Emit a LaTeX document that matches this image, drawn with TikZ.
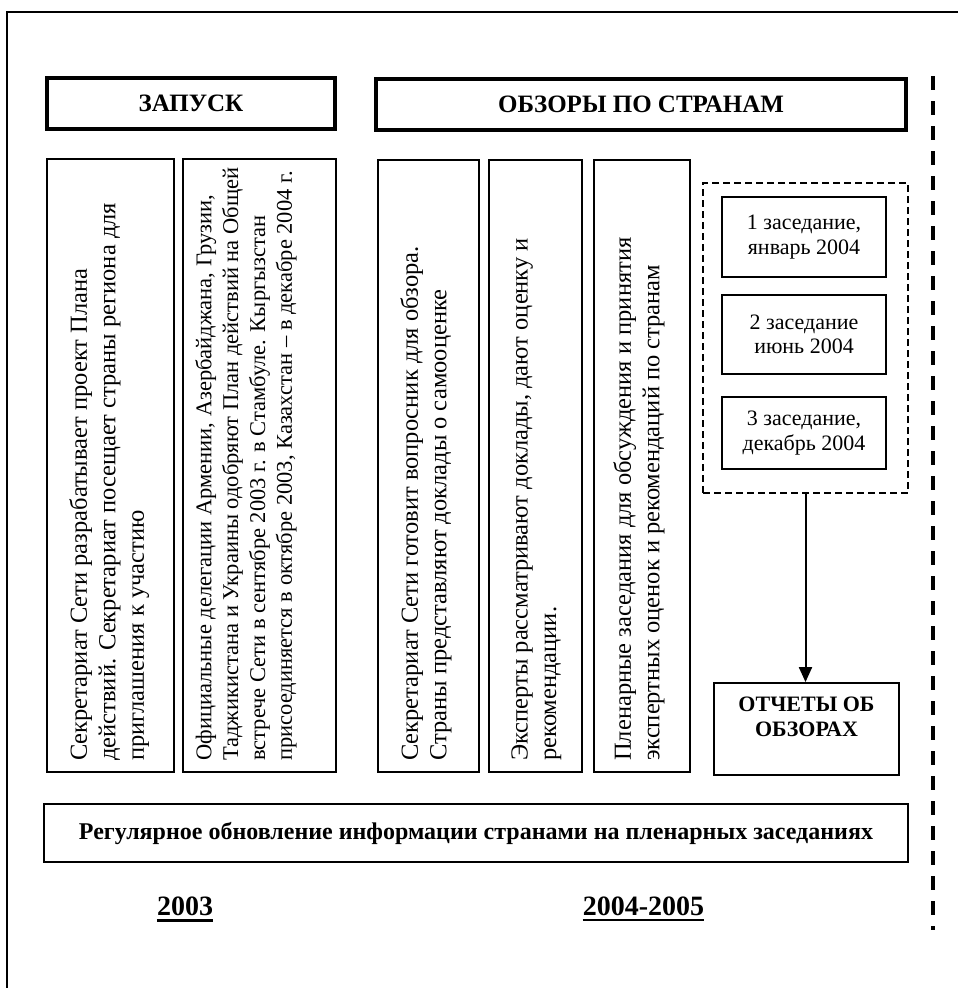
\documentclass[tikz,border=0pt]{standalone}
\usepackage{fontspec}
\setmainfont{Liberation Serif}
\usetikzlibrary{arrows.meta}
\begin{document}
\begin{tikzpicture}[x=1pt,y=-1pt,
  hdr/.style={draw, inner sep=0pt, line width=3.2pt, font=\bfseries\fontsize{25}{29}\selectfont},
  vbox/.style={draw, inner sep=0pt, line width=1.8pt},
  vtext/.style={inner sep=0pt, rotate=90, anchor=north west, align=left, font=\fontsize{24.5}{28.5}\selectfont},
  vtextsmall/.style={vtext, font=\fontsize{22.5}{26.8}\selectfont},
  mbox/.style={draw, inner sep=0pt, line width=1.6pt, align=center, font=\fontsize{22}{24.5}\selectfont},
  cont/.style={draw, inner sep=0pt, line width=1.4pt, dash pattern=on 7pt off 4pt},
  regbox/.style={draw, inner sep=0pt, line width=1.1pt, font=\bfseries\fontsize{24}{28}\selectfont},
  year/.style={inner sep=0pt, font=\bfseries\fontsize{28}{32}\selectfont},
  conn/.style={line width=2pt, -{Triangle[width=13pt,length=15pt]}}
]
\useasboundingbox (0,0) rectangle (958,988);
% outer frame (top and left edges only visible)
\coordinate (fb) at (7,988);
\coordinate (fc) at (7,12);
\coordinate (fr) at (958,12);
\draw[line width=2pt] (fb) -- (fc) -- (fr);
% dashed separator
\coordinate (dtop) at (933,76);
\coordinate (dbot) at (933,930);
\draw[line width=4pt, dash pattern=on 14pt off 11pt] (dtop) -- (dbot);

% headers
\node[hdr, minimum width=288, minimum height=51] (zap) at (191,103.5) {ЗАПУСК};
\node[hdr, minimum width=530, minimum height=51] (obz) at (641,104.5) {ОБЗОРЫ ПО СТРАНАМ};

% vertical boxes
\node[vbox, minimum width=127, minimum height=613] (b1) at (110.5,465.5) {};
\node[vbox, minimum width=153, minimum height=613] (b2) at (259.5,465.5) {};
\node[vbox, minimum width=101, minimum height=612] (b3) at (428.5,466) {};
\node[vbox, minimum width=93, minimum height=612] (b4) at (535.5,466) {};
\node[vbox, minimum width=96, minimum height=612] (b5) at (642,466) {};

\node[vtext] (t1) at ([xshift=23,yshift=12]b1.south west)
  {Секретариат Сети разрабатывает проект Плана\\действий. Секретариат посещает страны региона для\\приглашения к участию};
\node[vtextsmall] (t2) at ([xshift=13,yshift=12]b2.south west)
  {Официальные делегации Армении, Азербайджана, Грузии,\\Таджикистана и Украины одобряют План действий на Общей\\встрече Сети в сентябре 2003 г. в Стамбуле. Кыргызстан\\присоединяется в октябре 2003, Казахстан – в декабре 2004 г.};
\node[vtext] (t3) at ([xshift=23,yshift=12]b3.south west)
  {Секретариат Сети готовит вопросник для обзора.\\Страны представляют доклады о самооценке};
\node[vtext] (t4) at ([xshift=23,yshift=12]b4.south west)
  {Эксперты рассматривают доклады, дают оценку и\\рекомендации.};
\node[vtext] (t5) at ([xshift=20,yshift=12]b5.south west)
  {Пленарные заседания для обсуждения и принятия\\экспертных оценок и рекомендаций по странам};

% meetings container
\node[cont, minimum width=205, minimum height=310] (cnt) at (805.5,338) {};
\node[mbox, minimum width=164, minimum height=80] (m1) at (804,237) {1 заседание,\\январь 2004};
\node[mbox, minimum width=164, minimum height=79] (m2) at (804,334.5) {2 заседание\\июнь 2004};
\node[mbox, minimum width=164, minimum height=72] (m3) at (804,433) {3 заседание,\\декабрь 2004};

% reports
\node[vbox, minimum width=185, minimum height=92] (rep) at (806.5,729) {};
\node[inner sep=0pt, anchor=north, align=center, font=\bfseries\fontsize{22}{25}\selectfont] (rept) at ([yshift=-15]rep.north) {ОТЧЕТЫ ОБ\\ОБЗОРАХ};
\draw[conn] (cnt.south) -- (cnt.south |- rep.north);

% regular update
\node[regbox, minimum width=864, minimum height=58] (reg) at (476,833) {Регулярное обновление информации странами на пленарных заседаниях};

% years
\node[year, anchor=base] (y1) at (185,915) {2003};
\node[year, anchor=base] (y2) at (643.5,915) {2004-2005};
\draw[line width=2.6pt] ([yshift=-5.5]y1.base west) -- ([yshift=-5.5]y1.base east);
\draw[line width=1.4pt] ([yshift=-5]y2.base west) -- ([yshift=-5]y2.base east);
\end{tikzpicture}
\end{document}
